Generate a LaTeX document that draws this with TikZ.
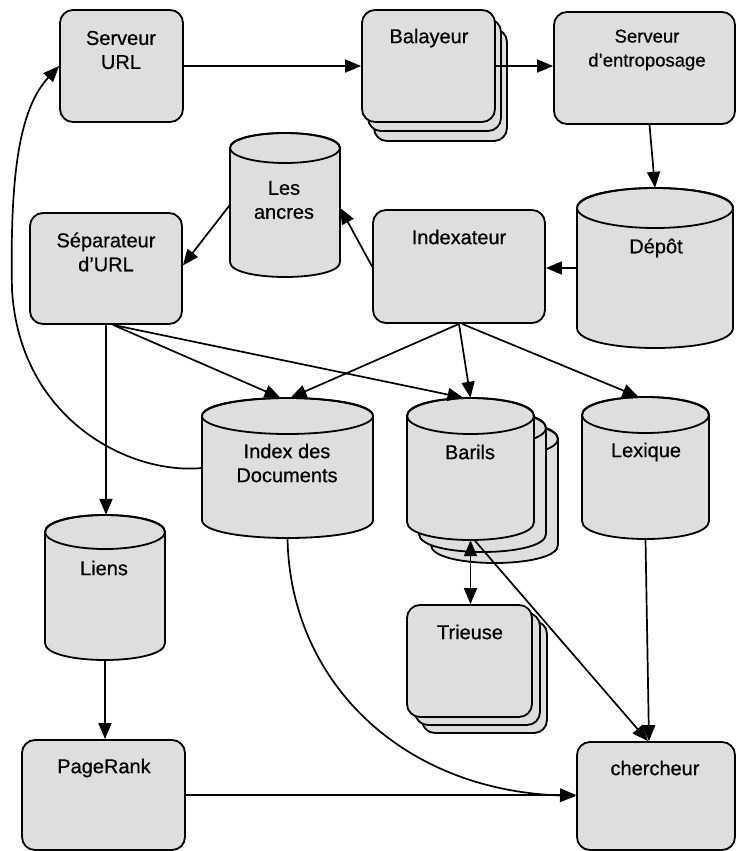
\documentclass[tikz,border=0pt]{standalone}
\usepackage{fontspec}
\setmainfont{Liberation Sans}[FakeBold=0.6,
  BoldFont=Liberation Sans, BoldFeatures={FakeBold=0.6}]
\usetikzlibrary{arrows.meta}

% A vertical drum (database cylinder): name, left, top, right, bottom, half-height of the lid
\newcommand\drum[6]{%
  \filldraw[drumline] (#2,#3+#6) -- (#2,#5-#6)
    .. controls (#2,#5+0.3333*#6) and (#4,#5+0.3333*#6) .. (#4,#5-#6)
    -- (#4,#3+#6)
    .. controls (#4,#3-0.3333*#6) and (#2,#3-0.3333*#6) .. cycle;
  \draw[drumline,fill=none] ({(#2+#4)/2},#3+#6) ellipse[x radius={(#4-#2)/2}, y radius=#6];
  \node[inner sep=0pt, minimum width={(#4-#2)*1pt}, minimum height={(#5-#3)*1pt}]
    (#1) at ({(#2+#4)/2},{(#3+#5)/2}) {};
}

\begin{document}
\begin{tikzpicture}[x=1pt,y=-1pt,
  proc/.style={draw, line width=1.8pt, fill=black!13, rounded corners=13pt, inner sep=0pt},
  drumline/.style={draw, line width=1.8pt, fill=black!13},
  lbl/.style={font=\fontsize{20}{24}\selectfont\bfseries, align=center, inner sep=0pt},
  tip/.style={Triangle[length=16pt,width=13pt]},
  arr/.style={line width=1.7pt, -{Triangle[length=16pt,width=13pt]}},
  darr/.style={line width=1.7pt, {Triangle[length=16pt,width=13pt]}-{Triangle[length=16pt,width=13pt]}}]
\useasboundingbox (0,0) rectangle (737,851);

% processes
\node[proc, minimum width=133pt, minimum height=112pt] (crawl3) at (440.5,85) {};
\node[proc, minimum width=133pt, minimum height=112pt] (crawl2) at (434.5,75) {};
\node[proc, minimum width=133pt, minimum height=112pt] (crawl) at (428.5,66) {};
\node[proc, minimum width=123pt, minimum height=112pt] (urlsrv) at (121.5,66) {};
\node[proc, minimum width=181pt, minimum height=112pt] (store) at (644.5,68) {};
\node[proc, minimum width=172pt, minimum height=113pt] (indexer) at (459,266.5) {};
\node[proc, minimum width=152pt, minimum height=111pt] (urlres) at (106,268.5) {};
\node[proc, minimum width=125pt, minimum height=112pt] (sorter3) at (484.5,677) {};
\node[proc, minimum width=125pt, minimum height=112pt] (sorter2) at (477.5,669) {};
\node[proc, minimum width=125pt, minimum height=112pt] (sorter) at (469.5,661) {};
\node[proc, minimum width=163pt, minimum height=110pt] (pagerank) at (103.5,795) {};
\node[proc, minimum width=158pt, minimum height=108pt] (searcher) at (656,796) {};

% data stores
\drum{anchors}{230}{133}{340}{277}{15}
\drum{repo}{577}{188}{733}{348}{20}
\drum{docidx}{202}{398}{373}{538}{18}
\drum{barrels3}{431}{421}{558}{563}{18}
\drum{barrels2}{419}{410}{546}{552}{18}
\drum{barrels}{407}{398}{534}{540}{18}
\drum{lexicon}{582}{397}{709}{539}{18}
\drum{links}{45}{515}{165}{660}{17}

% labels
\node[lbl] (t-urlsrv) at (121,50) {Serveur\\URL};
\node[lbl] (t-crawl) at (429,38) {Balayeur};
\node[lbl, font=\fontsize{18.5}{24}\selectfont\bfseries] (t-store) at (647,50) {Serveur\\d’entroposage};
\node[lbl] (t-repo) at (656,248) {Dépôt};
\node[lbl] (t-indexer) at (459,237) {Indexateur};
\node[lbl] (t-anchors) at (284,200) {Les\\ancres};
\node[lbl] (t-urlres) at (106,252) {Séparateur\\d'URL};
\node[lbl] (t-docidx) at (287,463) {Index des\\Documents};
\node[lbl] (t-barrels) at (470,452) {Barils};
\node[lbl] (t-lexicon) at (646,452) {Lexique};
\node[lbl] (t-links) at (104,568) {Liens};
\node[lbl] (t-sorter) at (470,632) {Trieuse};
\node[lbl] (t-pagerank) at (104,768) {PageRank};
\node[lbl] (t-searcher) at (655,768) {chercheur};

% connectors
\draw[arr] (urlsrv.east) -- (crawl.west);
\draw[arr] (crawl.east) -- (crawl.east -| store.west);
\draw[arr] ([shift={(5,0)}]store.south) -- (repo.north);
\draw[arr] (repo.west) -- (repo.west -| indexer.east);
\draw[arr] (indexer.west) -- ([shift={(0,3)}]anchors.east);
\draw[arr] (anchors.west) -- ([shift={(0,-3)}]urlres.east);
\draw[arr] (docidx.west) .. controls (130,475) and (20,420) .. (12,290)
  .. controls (10,180) and (18,110) .. (urlsrv.west);
\draw[arr] (urlres.south) -- (urlres.south |- links.north);
\draw[arr] ([shift={(7,0)}]urlres.south) -- ([shift={(-7,0)}]docidx.north);
\draw[arr] ([shift={(7,0)}]urlres.south) -- ([shift={(-7,0)}]barrels.north);
\draw[arr] (indexer.south) -- ([shift={(3,0)}]docidx.north);
\draw[arr] (indexer.south) -- (barrels.north);
\draw[arr] ([shift={(3,0)}]indexer.south) -- ([shift={(-7,0)}]lexicon.north);
\draw[arr] (links.south) -- (links.south |- pagerank.north);
\draw[arr] (pagerank.east) -- (pagerank.east -| searcher.west);
\draw[arr] (docidx.south) .. controls (290,680) and (400,790) .. (searcher.west);
\draw[darr] (barrels.south) -- (barrels.south |- sorter.north);
\draw[arr] ([shift={(4,0)}]barrels.south) -- ([shift={(-8,0)}]searcher.north);
\draw[arr] (lexicon.south) -- ([shift={(-7,0)}]searcher.north);
\end{tikzpicture}
\end{document}
